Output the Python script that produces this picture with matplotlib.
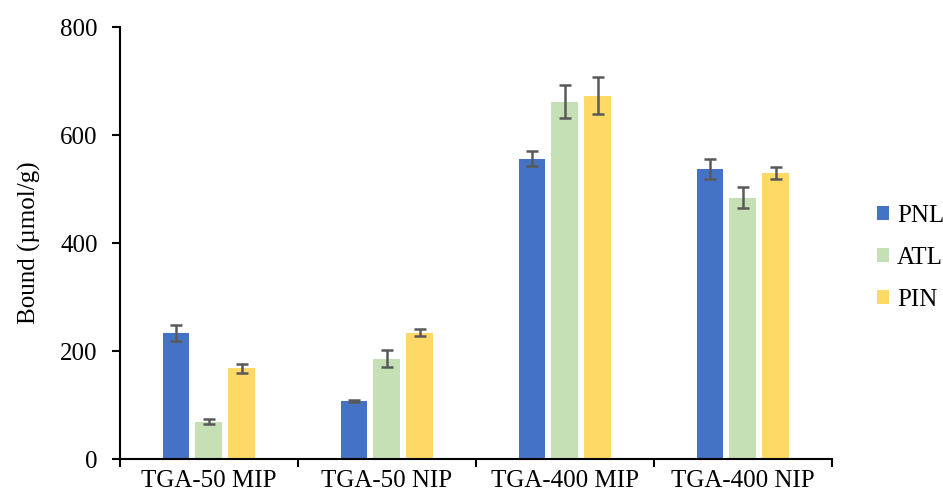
import matplotlib
matplotlib.use("Agg")
import matplotlib.pyplot as plt
import numpy as np

categories = ["TGA-50 MIP", "TGA-50 NIP", "TGA-400 MIP", "TGA-400 NIP"]
series = ["PNL", "ATL", "PIN"]
pnl = [234, 108, 556, 537]
atl = [69, 186, 662, 484]
pin = [168, 234, 673, 529]
pnl_err = [15, 2, 14, 18]
atl_err = [5, 15, 31, 20]
pin_err = [8, 7, 35, 11]
colors = ["#4472C4", "#C5E0B4", "#FFD966"]
yticks = [0, 200, 400, 600, 800]

plt.rcParams['font.family'] = ['Liberation Serif', 'DejaVu Serif']

fig = plt.figure(figsize=(9.43, 5), dpi=100)
ax = fig.add_axes([0.127, 0.082, 0.755, 0.864])

x = np.arange(len(categories))
width = 0.149
step = 0.185
for i, (vals, errs, c, name) in enumerate(zip([pnl, atl, pin], [pnl_err, atl_err, pin_err], colors, series)):
    ax.bar(x + (i - 1) * step, vals, width, color=c, label=name,
           yerr=errs, error_kw=dict(ecolor="#595959", elinewidth=1.8, capsize=4, capthick=1.8))

ax.set_xlim(-0.5, 3.5)
ax.set_ylim(0, 800)
ax.set_yticks(yticks)
ax.set_yticklabels([str(t) for t in yticks], fontsize=18)
ax.set_xticks(x)
ax.set_xticklabels(categories, fontsize=18)
ax.tick_params(axis='x', length=0, pad=8)
ax.set_xticks(np.arange(-0.5, 4.0, 1.0), minor=True)
ax.tick_params(axis='x', which='minor', length=6, width=1.5, color="#000000")
ax.tick_params(axis='y', length=6, width=1.5, direction='out', pad=10)
for s in ["top", "right"]:
    ax.spines[s].set_visible(False)
ax.spines["left"].set_linewidth(1.5)
ax.spines["bottom"].set_linewidth(1.5)
ax.set_ylabel("Bound (µmol/g)", fontsize=18, labelpad=14)

ax.legend(loc="center left", bbox_to_anchor=(1.046, 0.465), frameon=False, fontsize=18,
          borderpad=0, handlelength=0.5, handleheight=0.5, handletextpad=0.3, labelspacing=0.8)

fig.savefig("out.png", dpi=100)
